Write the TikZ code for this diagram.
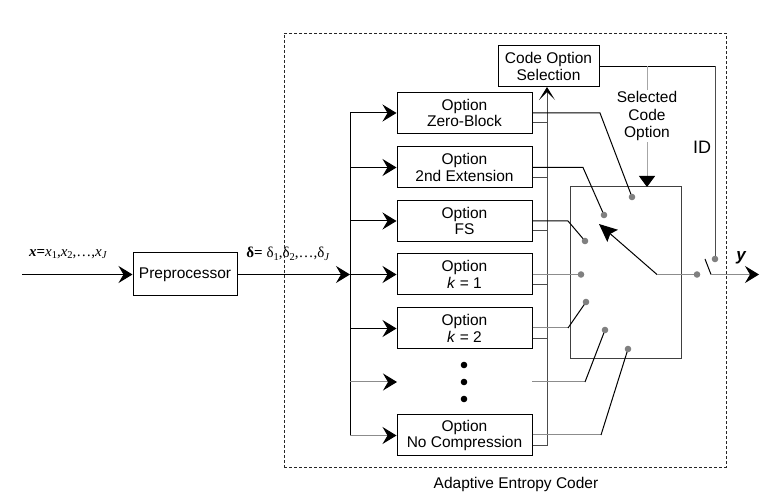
\documentclass[tikz,border=0pt]{standalone}
\usepackage{fontspec}
\setmainfont{Liberation Sans}
\newfontfamily\seriffont{Liberation Serif}
\usetikzlibrary{arrows.meta}
\newcommand\mainfs{\fontsize{15.5}{16.8}\selectfont}
\newcommand\lowsub[1]{\raisebox{-2.5pt}{\fontsize{10.5}{10.5}\selectfont #1}}
\begin{document}
\begin{tikzpicture}[x=1pt,y=-1pt,line width=1pt,
  optbox/.style={draw=black,minimum width=135pt,minimum height=41pt,align=center,inner sep=0pt,font=\mainfs},
  plainbox/.style={draw=black,align=center,inner sep=0pt,font=\mainfs},
  inarrow/.style={-{Stealth[length=14pt,width=17pt,inset=5pt,color=black]}},
  grayline/.style={draw=black!45},
  busline/.style={draw=black!70},
  dotc/.style={fill=black!50}
]
\useasboundingbox (0,0) rectangle (777,502);

% dashed container
\node[draw=black!85,dashed,dash pattern=on 3pt off 2pt,line width=0.9pt,minimum width=442pt,minimum height=434pt,inner sep=0pt] (aec) at (505,250) {};
\node[font=\mainfs] (aecl) at (516,484) {Adaptive Entropy Coder};

% preprocessor
\node[plainbox,minimum width=104pt,minimum height=43pt] (pre) at (185,274.5) {Preprocessor};
\coordinate (xin) at (22,274.5);
\draw[inarrow] (xin) -- (pre.west);
\node[inner sep=0pt,font=\seriffont\fontsize{15}{15}\selectfont] (xlab) at (68,254)
  {\textbf{\textit{x}}\textbf{=}\textit{x}\lowsub{1},\textit{x}\lowsub{2},\ldots,\textit{x}\lowsub{\textit{J}}};
\node[inner sep=0pt,font=\seriffont\fontsize{15}{15}\selectfont] (dlab) at (288,254)
  {\textbf{δ=} δ\lowsub{1},δ\lowsub{2},\ldots,δ\lowsub{\textit{J}}};

% option boxes
\node[optbox] (o1) at (464.5,113) {Option\\Zero-Block};
\node[optbox] (o2) at (464.5,167.5) {Option\\2nd Extension};
\node[optbox] (o3) at (464.5,221) {Option\\FS};
\node[optbox] (o4) at (464.5,274.5) {Option\\\textit{k} = 1};
\node[optbox] (o5) at (464.5,328.5) {Option\\\textit{k} = 2};
\node[optbox] (o7) at (464.5,435.5) {Option\\No Compression};
\coordinate (r6) at (397,382);
\fill (464,365) circle (3.3) (464,382) circle (3.3) (464,399) circle (3.3);

% left bus
\coordinate (bt) at (350,113);
\coordinate (bb) at (350,435.5);
\coordinate (bin) at (350,274.5);
\draw[inarrow] (pre.east) -- (bin);
\draw (bt) -- (bb);
\draw[inarrow] (bt |- o1.west) -- (o1.west);
\draw[inarrow] (bt |- o2.west) -- (o2.west);
\draw[inarrow] (bt |- o3.west) -- (o3.west);
\draw[inarrow] (bt |- o4.west) -- (o4.west);
\draw[inarrow] (bt |- o5.west) -- (o5.west);
\draw[inarrow,grayline] (bt |- r6) -- (r6);
\draw[inarrow,grayline] (bt |- o7.west) -- (o7.west);

% code option selection and right bus
\node[plainbox,minimum width=101pt,minimum height=41pt] (cos) at (548.5,66.5) {Code Option\\Selection};
\coordinate (rbb) at (547,445.5);
\coordinate (rbt) at (547,87);
\draw[busline,-{Stealth[length=13pt,width=16pt,inset=8pt,color=black]}] (rbb) -- (rbt);
\foreach \b in {o1,o2,o3,o4,o5,o7}{
  \draw[busline] ([yshift=-10pt]\b.east) -- ++(15,0);
}

% switch box
\node[draw=black!75,minimum width=111pt,minimum height=172pt,inner sep=0pt] (sw) at (625.5,273) {};

% contact dots positions
\coordinate (d1) at (632,197);
\coordinate (d2) at (604,215);
\coordinate (d3) at (585,241);
\coordinate (d4) at (581,274.5);
\coordinate (d5) at (586,302);
\coordinate (d6) at (605,330);
\coordinate (d7) at (628,349);
\coordinate (od) at (697,274.5);
% bends
\coordinate (b1) at (600,113);
\coordinate (b2) at (583,167.5);
\coordinate (b3) at (568,221);
\coordinate (b5) at (568,328);
\coordinate (b6) at (585,382);
\coordinate (b7) at (601,435);
\coordinate (r6e) at (532,382);

\draw (o1.east) -- (b1) -- (d1);
\draw (o2.east) -- (b2) -- (d2);
\draw (o3.east) -- (b3) -- (d3);
\draw[grayline] (o4.east) -- (d4);
\draw[grayline] (o5.east |- b5) -- (b5);
\draw (b5) -- (d5);
\draw[grayline] (r6e) -- (b6);
\draw (b6) -- (d6);
\draw[grayline] (o7.east |- b7) -- (b7);
\draw (b7) -- (d7);

% switch arm
\coordinate (piv) at (657,274.5);
\coordinate (armtip) at (599,224);
\draw[-{Stealth[length=18pt,width=16pt,inset=3pt]}] (piv) -- (armtip);
\draw[grayline] (piv) -- (od);

% output
\coordinate (s1) at (705,259);
\coordinate (s2) at (711,274.5);
\coordinate (yend) at (759,274.5);
\draw (s1) -- (s2);
\draw[grayline,inarrow] (s2) -- (yend);
\node[inner sep=0pt,font=\fontsize{17}{17}\selectfont\bfseries\itshape] (ylab) at (741,258) {y};

% ID line
\coordinate (idc) at (715,66.5);
\coordinate (idd) at (715,259);
\draw (cos.east) -- (idc);
\draw[busline] (idc) -- (idd);
\node[inner sep=0pt,font=\fontsize{18}{18}\selectfont] (idl) at (702,147) {ID};

% selected code option
\coordinate (selt) at (647,66.5);
\coordinate (selb) at (647,187);
\draw[draw=black!35,-{Triangle[length=11pt,width=16pt,color=black]}] (selt) -- (selb);
\node[fill=white,inner sep=1pt,align=center,font=\fontsize{15.5}{17.5}\selectfont] (sel) at (647,116) {Selected\\Code\\Option};

% dots
\foreach \d in {d1,d2,d3,d4,d5,d6,d7,od,idd}{
  \fill[dotc] (\d) circle (3.3);
}
\end{tikzpicture}
\end{document}
